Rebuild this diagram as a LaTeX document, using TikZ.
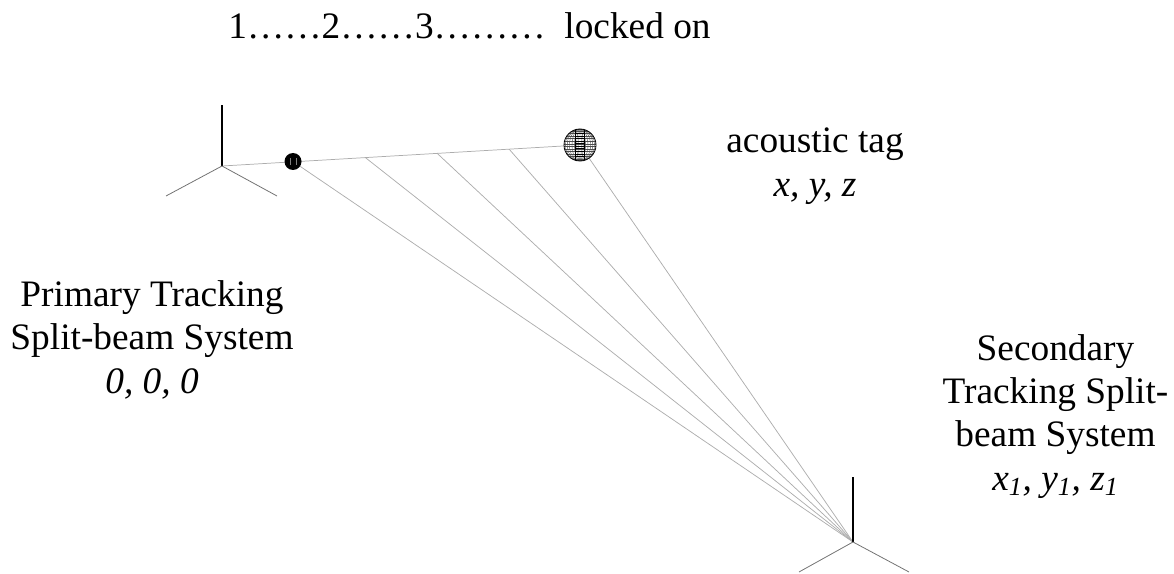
\documentclass[tikz,border=0pt]{standalone}
\usepackage{fontspec}
\setmainfont{Liberation Serif}
\newcommand{\wireball}[3]{%
  \begin{scope}
    \clip (#1,#2) circle[radius=#3];
    \fill[white] (#1,#2) circle[radius=#3];
    \foreach \k in {-0.88,-0.72,...,0.95}{
      \draw[wire] ({#1-#3},{#2+\k*#3}) -- ({#1+#3},{#2+\k*#3});
    }
    \foreach \k in {0.08,0.2,0.34,0.5,0.66,0.8,0.92}{
      \draw[wire] (#1,#2) ellipse[x radius={\k*#3},y radius={#3}];
    }
    \foreach \k in {-0.72,-0.56,...,0.75}{
      \draw[black,line width=0.55pt] ({#1-0.3*#3},{#2+\k*#3}) -- ({#1+0.3*#3},{#2+\k*#3});
    }
    \foreach \k in {-0.28,0.28}{
      \draw[black,line width=0.55pt] ({#1+\k*#3},{#2-#3}) -- ({#1+\k*#3},{#2+#3});
    }
  \end{scope}
  \draw[black,line width=0.6pt] (#1,#2) circle[radius=#3];
}
\tikzset{
  x=0.75pt,y=-0.75pt,
  wire/.style={black!70,line width=0.3pt},
  axisv/.style={black,line width=0.9pt},
  axisleg/.style={black!55,line width=0.6pt},
  sight/.style={black!32,line width=0.55pt},
  lab/.style={font=\fontsize{28}{32.5}\selectfont,align=center,inner sep=0pt,anchor=base}
}
\begin{document}
\begin{tikzpicture}
\useasboundingbox (0,0) rectangle (1174,574);
% named points
\coordinate (po) at (222,166);
\coordinate (pt) at (222,105);
\coordinate (pl) at (166,196);
\coordinate (pr) at (277,196);
\coordinate (so) at (853,542);
\coordinate (st) at (853,477);
\coordinate (sl) at (799,572);
\coordinate (sr) at (909,572);
\coordinate (t1) at (293,161.5);
\coordinate (t2) at (365,157.3);
\coordinate (t3) at (437,153.2);
\coordinate (t4) at (509,149);
\coordinate (t5) at (580,145);
% sight lines
\draw[sight] (po) -- (t5);
\foreach \p in {t1,t2,t3,t4,t5}{\draw[sight] (so) -- (\p);}
% axes
\draw[axisv] (po) -- (pt);
\draw[axisleg] (po) -- (pl);
\draw[axisleg] (po) -- (pr);
\draw[axisv,line width=1.5pt] (so) -- (st);
\draw[axisleg] (so) -- (sl);
\draw[axisleg] (so) -- (sr);
% spheres
\fill[black] (293,161.5) circle[radius=8.5];
\draw[white,line width=0.3pt,opacity=.5] (290,158) -- (290,165) (296,158) -- (296,165);
\wireball{580}{145}{16}
% text
\node[lab] (top) at (469.5,39) {1……2……3………\ \ locked on};
\node[lab] (tag) at (815,196) {acoustic tag\\\textit{x, y, z}};
\node[lab] (prim) at (152,393) {Primary Tracking\\Split-beam System\\\textit{0, 0, 0}};
\node[lab] (sec) at (1055.5,490) {Secondary\\Tracking Split-\\beam System\\\textit{x\textsubscript{1}, y\textsubscript{1}, z\textsubscript{1}}};
\end{tikzpicture}
\end{document}
